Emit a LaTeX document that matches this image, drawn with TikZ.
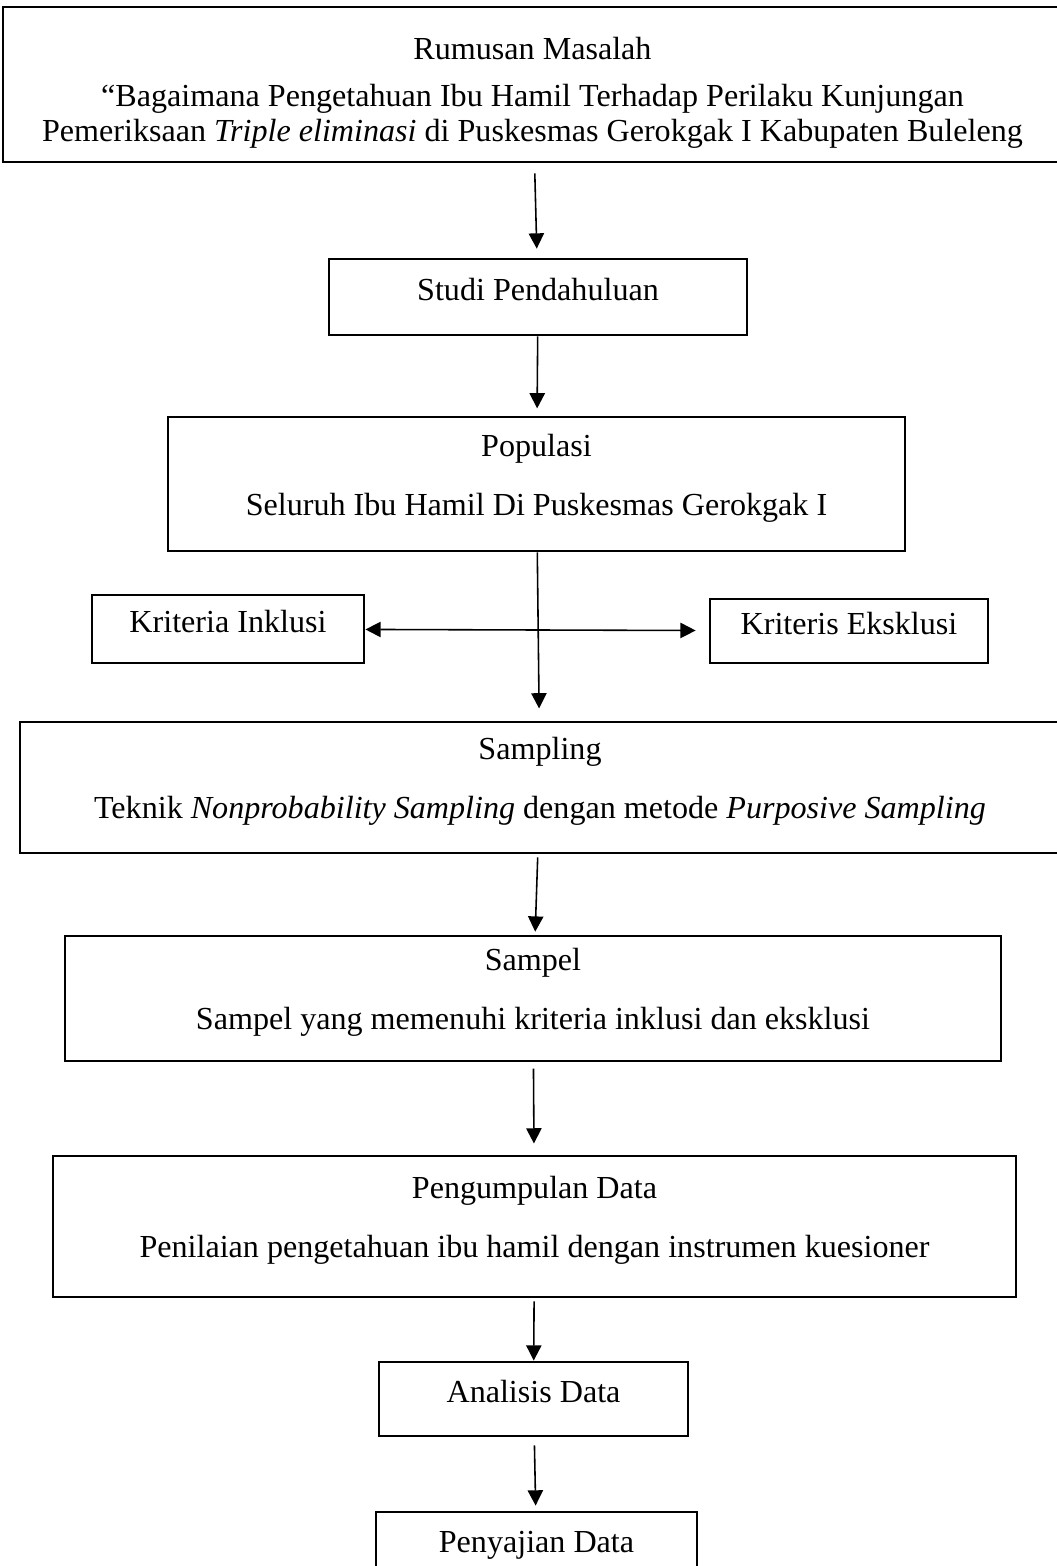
\documentclass[tikz,border=0pt]{standalone}
\usepackage{fontspec}
\setmainfont{Liberation Serif}
\usepackage{tikz}
\usetikzlibrary{arrows.meta}
\newcommand{\pxu}{0.38pt}

\begin{document}
\begin{tikzpicture}[x=0.38pt,y=-0.38pt,>={Triangle[length=5.8pt,width=5.8pt]},
  kotak/.style={draw,line width=1.1pt,inner sep=0pt,align=center,font=\fontsize{12.2}{13.3}\selectfont},
  satu/.style={kotak,text height=8pt,text depth=5pt},
  dua/.style={kotak,text height=23.6pt,text depth=0pt},
  panah/.style={->,line width=0.6pt}]
\useasboundingbox (0,0) rectangle (1057,1566);
\node[kotak,minimum width=1059*\pxu,minimum height=155*\pxu,text height=43.7pt,text depth=0pt] (rumusan) at (532.5,84.5)
  {Rumusan Masalah\\[4.6pt]
   “Bagaimana Pengetahuan Ibu Hamil Terhadap Perilaku Kunjungan\\
   Pemeriksaan \textit{Triple eliminasi} di Puskesmas Gerokgak I Kabupaten Buleleng};
\node[satu,minimum width=418*\pxu,minimum height=76*\pxu] (studi) at (538,297) {Studi Pendahuluan};
\node[dua,minimum width=737*\pxu,minimum height=134*\pxu] (populasi) at (536.5,484)
  {Populasi\\[9.1pt] Seluruh Ibu Hamil Di Puskesmas Gerokgak I};
\node[satu,minimum width=272*\pxu,minimum height=68*\pxu] (inklusi) at (228,629) {Kriteria Inklusi};
\node[satu,minimum width=278*\pxu,minimum height=64*\pxu] (eksklusi) at (849,631) {Kriteris Eksklusi};
\node[dua,minimum width=1040*\pxu,minimum height=131*\pxu] (sampling) at (540,787.5)
  {Sampling\\[9.1pt] Teknik \textit{Nonprobability Sampling} dengan metode \textit{Purposive Sampling}};
\node[dua,minimum width=936*\pxu,minimum height=125*\pxu] (sampel) at (533,998.5)
  {Sampel\\[9.1pt] Sampel yang memenuhi kriteria inklusi dan eksklusi};
\node[dua,minimum width=963*\pxu,minimum height=141*\pxu] (pengumpulan) at (534.5,1226.5)
  {Pengumpulan Data\\[9.1pt] Penilaian pengetahuan ibu hamil dengan instrumen kuesioner};
\node[satu,minimum width=309*\pxu,minimum height=74*\pxu] (analisis) at (533.5,1399) {Analisis Data};
\node[satu,minimum width=321*\pxu,minimum height=74*\pxu] (penyajian) at (536.5,1549) {Penyajian Data};

\draw[panah,shorten <=3.8pt,shorten >=3.4pt] (rumusan) -- (studi);
\draw[panah,shorten >=2.7pt] (studi) -- (populasi);
\draw[panah,shorten >=4.6pt] (populasi) -- (sampling);
\draw[<->,line width=0.6pt,shorten >=4.9pt] (inklusi) -- (eksklusi);
\draw[panah,shorten <=1.1pt,shorten >=1.1pt] (sampling) -- (sampel);
\draw[panah,shorten <=2.3pt,shorten >=4.2pt] (sampel) -- (pengumpulan);
\draw[panah,shorten <=1.1pt] (pengumpulan) -- (analisis);
\draw[panah,shorten <=3pt,shorten >=1.9pt] (analisis) -- (penyajian);
\end{tikzpicture}
\end{document}
